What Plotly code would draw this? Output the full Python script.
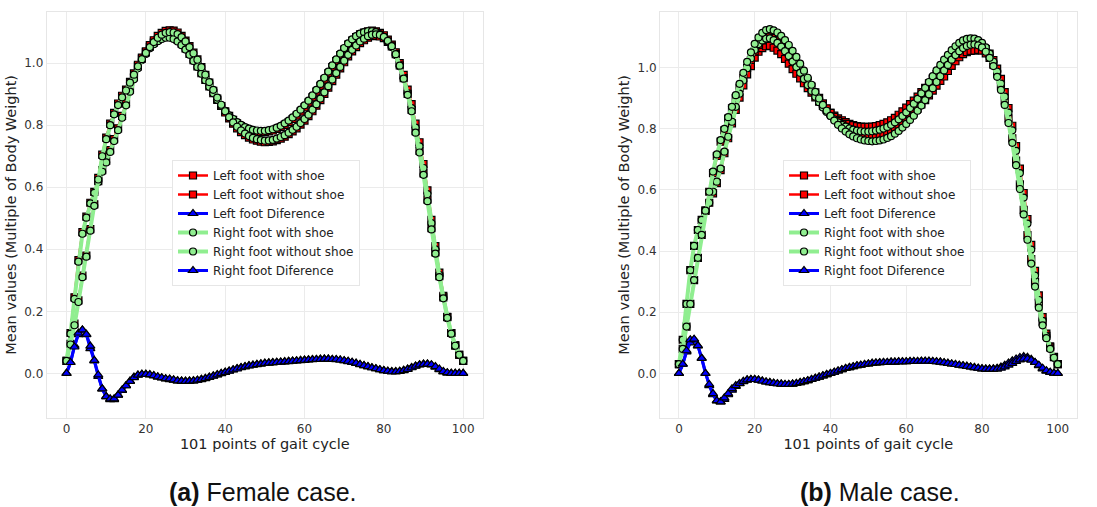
import plotly.graph_objects as go

# gait-cycle sample index (101 points)
points = list(range(101))

# ---------------- Female ----------------
female_left_with = [
    0.04, 0.13, 0.245, 0.365, 0.455, 0.505, 0.55, 0.585, 0.62, 0.655,
    0.685, 0.72, 0.755, 0.79, 0.83, 0.87, 0.915, 0.955, 0.99, 1.015,
    1.035, 1.053, 1.066, 1.076, 1.083, 1.087, 1.087, 1.083, 1.075, 1.063,
    1.048, 1.03, 1.01, 0.99, 0.968, 0.946, 0.925, 0.903, 0.882, 0.862,
    0.845, 0.83, 0.817, 0.806, 0.797, 0.79, 0.785, 0.781, 0.779, 0.778,
    0.778, 0.78, 0.783, 0.788, 0.794, 0.801, 0.81, 0.82, 0.831, 0.844,
    0.858, 0.873, 0.89, 0.908, 0.927, 0.947, 0.967, 0.987, 1.007, 1.026,
    1.044, 1.06, 1.073, 1.084, 1.093, 1.099, 1.103, 1.105, 1.103, 1.098,
    1.09, 1.076, 1.06, 1.035, 1.0, 0.962, 0.915, 0.868, 0.805, 0.745,
    0.675, 0.59, 0.495, 0.41, 0.325, 0.25, 0.182, 0.13, 0.09, 0.06,
    0.04]
female_left_without = [
    0.04, 0.095, 0.16, 0.235, 0.315, 0.38, 0.465, 0.545, 0.63, 0.705,
    0.76, 0.805, 0.84, 0.87, 0.895, 0.915, 0.94, 0.967, 0.995, 1.018,
    1.038, 1.058, 1.074, 1.088, 1.098, 1.104, 1.106, 1.105, 1.099, 1.088,
    1.073, 1.055, 1.034, 1.012, 0.987, 0.962, 0.937, 0.911, 0.886, 0.862,
    0.841, 0.822, 0.805, 0.79, 0.778, 0.768, 0.76, 0.754, 0.75, 0.747,
    0.745, 0.746, 0.748, 0.752, 0.757, 0.763, 0.771, 0.78, 0.79, 0.802,
    0.815, 0.829, 0.845, 0.863, 0.881, 0.901, 0.921, 0.942, 0.963, 0.983,
    1.003, 1.022, 1.038, 1.052, 1.065, 1.074, 1.082, 1.087, 1.088, 1.086,
    1.081, 1.069, 1.054, 1.029, 0.993, 0.952, 0.901, 0.849, 0.781, 0.717,
    0.645, 0.56, 0.468, 0.39, 0.313, 0.245, 0.181, 0.13, 0.09, 0.06,
    0.04]
female_left_diff = [
    0.0, 0.035, 0.09, 0.125, 0.14, 0.125, 0.08, 0.04, -0.01, -0.05,
    -0.075, -0.085, -0.085, -0.07, -0.055, -0.04, -0.025, -0.012, -0.005, -0.003,
    -0.003, -0.005, -0.008, -0.012, -0.015, -0.018, -0.02, -0.022, -0.024, -0.025,
    -0.025, -0.025, -0.024, -0.022, -0.019, -0.016, -0.012, -0.008, -0.004, 0.0,
    0.004, 0.008, 0.012, 0.016, 0.019, 0.022, 0.025, 0.027, 0.029, 0.031,
    0.033, 0.034, 0.035, 0.036, 0.037, 0.038, 0.039, 0.04, 0.041, 0.042,
    0.043, 0.044, 0.045, 0.045, 0.046, 0.046, 0.046, 0.045, 0.044, 0.043,
    0.041, 0.038, 0.035, 0.032, 0.028, 0.025, 0.021, 0.018, 0.015, 0.012,
    0.009, 0.007, 0.006, 0.006, 0.007, 0.01, 0.014, 0.019, 0.024, 0.028,
    0.03, 0.03, 0.027, 0.02, 0.012, 0.005, 0.001, 0.0, 0.0, 0.0,
    0.0]
female_right_with = [
    0.04, 0.128, 0.24, 0.36, 0.45, 0.502, 0.548, 0.582, 0.617, 0.65,
    0.68, 0.714, 0.749, 0.784, 0.824, 0.864, 0.908, 0.948, 0.984, 1.01,
    1.03, 1.048, 1.061, 1.071, 1.078, 1.082, 1.082, 1.078, 1.07, 1.058,
    1.044, 1.027, 1.007, 0.988, 0.966, 0.945, 0.924, 0.903, 0.882, 0.863,
    0.846, 0.832, 0.82, 0.81, 0.801, 0.794, 0.789, 0.785, 0.783, 0.782,
    0.782, 0.784, 0.787, 0.792, 0.798, 0.806, 0.815, 0.825, 0.837, 0.85,
    0.864, 0.879, 0.896, 0.914, 0.933, 0.953, 0.973, 0.993, 1.012, 1.031,
    1.049, 1.064, 1.077, 1.087, 1.095, 1.1, 1.103, 1.103, 1.1, 1.094,
    1.085, 1.07, 1.052, 1.026, 0.99, 0.951, 0.903, 0.855, 0.792, 0.732,
    0.662, 0.578, 0.484, 0.4, 0.317, 0.244, 0.178, 0.127, 0.088, 0.059,
    0.04]
female_right_without = [
    0.04, 0.093, 0.155, 0.23, 0.31, 0.376, 0.46, 0.54, 0.625, 0.7,
    0.755, 0.8, 0.835, 0.865, 0.89, 0.912, 0.937, 0.963, 0.99, 1.013,
    1.033, 1.052, 1.068, 1.082, 1.092, 1.098, 1.1, 1.099, 1.094, 1.084,
    1.07, 1.052, 1.032, 1.011, 0.987, 0.963, 0.939, 0.914, 0.889, 0.866,
    0.845, 0.826, 0.809, 0.795, 0.783, 0.773, 0.765, 0.759, 0.755, 0.752,
    0.75, 0.751, 0.753, 0.757, 0.762, 0.768, 0.776, 0.785, 0.795, 0.807,
    0.82, 0.834, 0.85, 0.868, 0.886, 0.906, 0.926, 0.947, 0.968, 0.988,
    1.008, 1.027, 1.043, 1.057, 1.07, 1.079, 1.087, 1.092, 1.093, 1.091,
    1.085, 1.072, 1.055, 1.029, 0.992, 0.95, 0.898, 0.845, 0.776, 0.712,
    0.64, 0.555, 0.464, 0.386, 0.31, 0.242, 0.179, 0.128, 0.089, 0.06,
    0.04]
female_right_diff = [
    0.0, 0.035, 0.085, 0.13, 0.14, 0.126, 0.088, 0.042, -0.005, -0.05,
    -0.075, -0.082, -0.082, -0.07, -0.054, -0.04, -0.026, -0.014, -0.006, -0.003,
    -0.003, -0.004, -0.007, -0.011, -0.014, -0.017, -0.018, -0.021, -0.024, -0.025,
    -0.026, -0.025, -0.024, -0.022, -0.02, -0.017, -0.013, -0.009, -0.005, -0.001,
    0.003, 0.007, 0.011, 0.014, 0.018, 0.021, 0.024, 0.026, 0.028, 0.03,
    0.032, 0.033, 0.034, 0.035, 0.036, 0.037, 0.038, 0.039, 0.04, 0.041,
    0.042, 0.043, 0.044, 0.045, 0.045, 0.046, 0.046, 0.045, 0.045, 0.043,
    0.041, 0.039, 0.036, 0.033, 0.029, 0.025, 0.022, 0.018, 0.015, 0.012,
    0.009, 0.007, 0.005, 0.005, 0.006, 0.009, 0.013, 0.018, 0.023, 0.027,
    0.029, 0.03, 0.028, 0.022, 0.014, 0.006, 0.002, 0.0, 0.0, 0.0,
    0.0]

# ---------------- Male ----------------
male_left_with = [
    0.03, 0.11, 0.227, 0.338, 0.417, 0.469, 0.502, 0.532, 0.558, 0.589,
    0.622, 0.665, 0.72, 0.769, 0.818, 0.862, 0.902, 0.942, 0.978, 1.005,
    1.033, 1.052, 1.064, 1.07, 1.071, 1.065, 1.056, 1.044, 1.029, 1.013,
    0.995, 0.98, 0.965, 0.949, 0.933, 0.918, 0.903, 0.889, 0.875, 0.863,
    0.852, 0.843, 0.834, 0.828, 0.822, 0.816, 0.812, 0.809, 0.807, 0.806,
    0.806, 0.807, 0.809, 0.812, 0.816, 0.821, 0.828, 0.836, 0.846, 0.857,
    0.869, 0.881, 0.892, 0.905, 0.92, 0.934, 0.949, 0.964, 0.979, 0.994,
    1.006, 1.022, 1.037, 1.05, 1.061, 1.069, 1.074, 1.076, 1.075, 1.075,
    1.071, 1.061, 1.046, 1.025, 0.997, 0.963, 0.92, 0.868, 0.81, 0.743,
    0.67, 0.59, 0.505, 0.42, 0.335, 0.255, 0.184, 0.13, 0.088, 0.054,
    0.03]
male_left_without = [
    0.03, 0.08, 0.153, 0.227, 0.305, 0.378, 0.453, 0.532, 0.594, 0.655,
    0.711, 0.758, 0.795, 0.833, 0.867, 0.9, 0.934, 0.967, 0.999, 1.025,
    1.053, 1.074, 1.089, 1.098, 1.101, 1.097, 1.09, 1.079, 1.065, 1.049,
    1.03, 1.013, 0.995, 0.976, 0.957, 0.938, 0.919, 0.901, 0.883, 0.867,
    0.852, 0.839, 0.826, 0.816, 0.806, 0.797, 0.79, 0.784, 0.78, 0.777,
    0.775, 0.774, 0.775, 0.777, 0.78, 0.785, 0.791, 0.799, 0.808, 0.819,
    0.831, 0.842, 0.853, 0.866, 0.88, 0.894, 0.909, 0.925, 0.941, 0.957,
    0.971, 0.989, 1.006, 1.021, 1.034, 1.044, 1.051, 1.055, 1.056, 1.058,
    1.056, 1.047, 1.032, 1.01, 0.98, 0.942, 0.893, 0.834, 0.769, 0.696,
    0.618, 0.535, 0.452, 0.374, 0.299, 0.23, 0.169, 0.123, 0.085, 0.053,
    0.03]
male_left_diff = [
    0.0, 0.03, 0.07, 0.10, 0.11, 0.09, 0.05, 0.0, -0.04, -0.07,
    -0.09, -0.093, -0.085, -0.07, -0.055, -0.043, -0.034, -0.027, -0.022, -0.02,
    -0.02, -0.022, -0.025, -0.028, -0.03, -0.032, -0.034, -0.035, -0.036, -0.036,
    -0.035, -0.033, -0.03, -0.027, -0.024, -0.02, -0.016, -0.012, -0.008, -0.004,
    0.0, 0.004, 0.008, 0.012, 0.016, 0.019, 0.022, 0.025, 0.027, 0.029,
    0.031, 0.033, 0.034, 0.035, 0.036, 0.036, 0.037, 0.037, 0.038, 0.038,
    0.038, 0.039, 0.039, 0.039, 0.04, 0.04, 0.04, 0.039, 0.038, 0.037,
    0.035, 0.033, 0.031, 0.029, 0.027, 0.025, 0.023, 0.021, 0.019, 0.017,
    0.015, 0.014, 0.014, 0.015, 0.017, 0.021, 0.027, 0.034, 0.041, 0.047,
    0.052, 0.055, 0.053, 0.046, 0.036, 0.025, 0.015, 0.007, 0.003, 0.001,
    0.0]
male_right_with = [
    0.03, 0.11, 0.227, 0.338, 0.417, 0.469, 0.502, 0.532, 0.558, 0.594,
    0.627, 0.67, 0.725, 0.774, 0.823, 0.872, 0.915, 0.958, 0.998, 1.03,
    1.058, 1.077, 1.089, 1.095, 1.096, 1.09, 1.081, 1.069, 1.054, 1.038,
    1.02, 1.002, 0.983, 0.963, 0.943, 0.924, 0.905, 0.887, 0.87, 0.855,
    0.842, 0.831, 0.821, 0.813, 0.807, 0.801, 0.797, 0.794, 0.792, 0.791,
    0.791, 0.792, 0.794, 0.797, 0.801, 0.806, 0.813, 0.821, 0.831, 0.842,
    0.854, 0.868, 0.882, 0.898, 0.916, 0.934, 0.953, 0.972, 0.991, 1.009,
    1.026, 1.042, 1.057, 1.07, 1.081, 1.089, 1.094, 1.096, 1.095, 1.09,
    1.081, 1.066, 1.046, 1.02, 0.987, 0.948, 0.905, 0.853, 0.795, 0.728,
    0.655, 0.575, 0.49, 0.405, 0.32, 0.24, 0.172, 0.122, 0.083, 0.052,
    0.03]
male_right_without = [
    0.03, 0.08, 0.153, 0.227, 0.305, 0.378, 0.453, 0.532, 0.594, 0.66,
    0.716, 0.763, 0.80, 0.838, 0.872, 0.91, 0.947, 0.983, 1.019, 1.05,
    1.078, 1.099, 1.114, 1.123, 1.126, 1.122, 1.115, 1.104, 1.09, 1.074,
    1.055, 1.035, 1.013, 0.99, 0.967, 0.944, 0.921, 0.899, 0.878, 0.859,
    0.842, 0.827, 0.813, 0.801, 0.791, 0.782, 0.775, 0.769, 0.765, 0.762,
    0.76, 0.759, 0.76, 0.762, 0.765, 0.77, 0.776, 0.784, 0.793, 0.804,
    0.816, 0.829, 0.843, 0.859, 0.876, 0.894, 0.913, 0.933, 0.953, 0.972,
    0.991, 1.009, 1.026, 1.041, 1.054, 1.064, 1.071, 1.075, 1.076, 1.073,
    1.066, 1.052, 1.032, 1.005, 0.97, 0.927, 0.878, 0.819, 0.754, 0.681,
    0.603, 0.52, 0.437, 0.359, 0.284, 0.215, 0.157, 0.115, 0.08, 0.051,
    0.03]
male_right_diff = [
    0.0, 0.03, 0.074, 0.11, 0.112, 0.091, 0.049, 0.0, -0.036, -0.066,
    -0.089, -0.093, -0.08, -0.066, -0.05, -0.04, -0.033, -0.026, -0.021, -0.02,
    -0.02, -0.022, -0.025, -0.028, -0.03, -0.032, -0.034, -0.035, -0.036, -0.036,
    -0.035, -0.033, -0.03, -0.027, -0.024, -0.02, -0.016, -0.012, -0.008, -0.004,
    0.0, 0.004, 0.008, 0.012, 0.016, 0.019, 0.022, 0.025, 0.027, 0.029,
    0.031, 0.033, 0.034, 0.035, 0.036, 0.036, 0.037, 0.037, 0.038, 0.038,
    0.038, 0.039, 0.039, 0.039, 0.04, 0.04, 0.04, 0.039, 0.038, 0.037,
    0.035, 0.033, 0.031, 0.029, 0.027, 0.025, 0.023, 0.021, 0.019, 0.017,
    0.015, 0.014, 0.014, 0.014, 0.014, 0.017, 0.021, 0.027, 0.033, 0.039,
    0.044, 0.047, 0.047, 0.043, 0.036, 0.027, 0.017, 0.009, 0.004, 0.001,
    0.0]

series_names = [
    "Left foot with shoe", "Left foot without shoe", "Left foot Diference",
    "Right foot with shoe", "Right foot without shoe", "Right foot Diference",
]
x_ticks = [0, 20, 40, 60, 80, 100]
y_ticks = [0.0, 0.2, 0.4, 0.6, 0.8, 1.0]

# per-series styling: (line colour, line width, marker symbol, marker size)
styles = [
    ("#ff0000", 2.5, "square", 7),
    ("#ff0000", 2.5, "square", 7),
    ("#0000ff", 3, "triangle-up", 8),
    ("#90ee90", 4, "circle", 7),
    ("#90ee90", 4, "circle", 7),
    ("#0000ff", 3, "triangle-up", 8),
]

panels = [
    ("x", "y", "legend", [female_left_with, female_left_without, female_left_diff,
                          female_right_with, female_right_without, female_right_diff]),
    ("x2", "y2", "legend2", [male_left_with, male_left_without, male_left_diff,
                             male_right_with, male_right_without, male_right_diff]),
]

fig = go.Figure()
for xa, ya, leg, data in panels:
    for name, values, (col, lw, sym, ms) in zip(series_names, data, styles):
        fig.add_trace(go.Scatter(
            x=points, y=values, name=name, mode="lines+markers",
            xaxis=xa, yaxis=ya, legend=leg,
            line=dict(color=col, width=lw),
            marker=dict(symbol=sym, size=ms, color=col,
                        line=dict(color="black", width=1.2)),
        ))

W, H = 1097, 507
grid = "#ebebeb"
tick_font = dict(family="DejaVu Sans", size=12, color="#333333")
title_font = dict(family="DejaVu Sans", size=14.5, color="#222222")


def xaxis(domain, anchor):
    return dict(domain=domain, anchor=anchor, range=[-5, 105],
                tickvals=x_ticks, ticktext=[str(v) for v in x_ticks],
                showgrid=True, gridcolor=grid, gridwidth=1, zeroline=False,
                showline=True, linecolor="#e6e6e6", mirror=True,
                ticks="", tickfont=tick_font,
                title=dict(text="101 points of gait cycle", font=title_font, standoff=0))


def yaxis(domain, anchor, rng):
    return dict(domain=domain, anchor=anchor, range=rng,
                tickvals=y_ticks, ticktext=[f"{v:.1f}" for v in y_ticks],
                showgrid=True, gridcolor=grid, gridwidth=1, zeroline=False,
                showline=True, linecolor="#e6e6e6", mirror=True,
                ticks="", tickfont=tick_font,
                title=dict(text="Mean values (Multiple of Body Weight)",
                           font=title_font, standoff=4))


ydom = [1 - 418 / H, 1 - 11.7 / H]
legend_style = dict(
    bgcolor="white", bordercolor="#e6e6e6", borderwidth=1,
    font=dict(family="DejaVu Sans", size=12, color="#222222"),
    xanchor="left", yanchor="top", tracegroupgap=0, itemwidth=30,
)

caption_font = dict(family="Liberation Sans", size=25, color="#111111")

fig.update_layout(
    width=W, height=H,
    margin=dict(l=0, r=0, t=0, b=0),
    paper_bgcolor="white", plot_bgcolor="white",
    xaxis=xaxis([46.7 / W, 483 / W], "y"),
    yaxis=yaxis(ydom, "x", [-0.144, 1.166]),
    xaxis2=xaxis([660 / W, 1076.7 / W], "y2"),
    yaxis2=yaxis(ydom, "x2", [-0.146, 1.183]),
    legend=dict(x=172 / W, y=1 - 160 / H, **legend_style),
    legend2=dict(x=783 / W, y=1 - 160 / H, **legend_style),
    annotations=[
        dict(text="<b>(a)</b> Female case.", x=263 / W, y=1 - 492 / H,
             xref="paper", yref="paper", xanchor="center", yanchor="middle",
             showarrow=False, font=caption_font),
        dict(text="<b>(b)</b> Male case.", x=880 / W, y=1 - 492 / H,
             xref="paper", yref="paper", xanchor="center", yanchor="middle",
             showarrow=False, font=caption_font),
    ],
)

fig.write_html("out.html")
